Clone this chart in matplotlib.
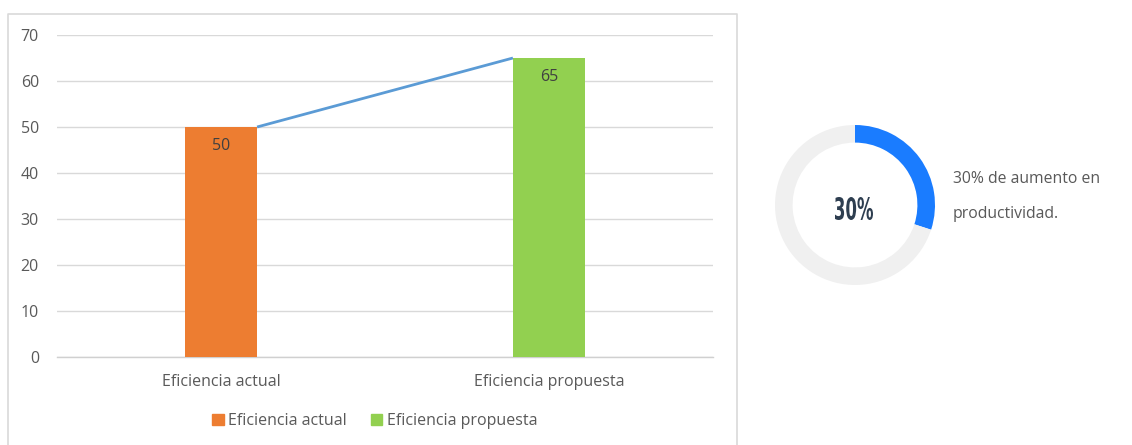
import matplotlib
matplotlib.use("Agg")
import matplotlib.pyplot as plt
from matplotlib.patches import Rectangle, PathPatch
from matplotlib.textpath import TextPath
from matplotlib.font_manager import FontProperties
from matplotlib.transforms import Affine2D

plt.rcParams["font.family"] = ["Open Sans", "DejaVu Sans"]

categories = ["Eficiencia actual", "Eficiencia propuesta"]
values = [50, 65]
bar_colors = ["#ed7d31", "#92d050"]
y_ticks = [0, 10, 20, 30, 40, 50, 60, 70]
increase_pct = 30
caption = "30% de aumento en\nproductividad."

W, H = 1132, 445
fig = plt.figure(figsize=(W / 100, H / 100), dpi=100)
fig.patch.set_facecolor("white")

def box(x0, y0, x1, y1):
    return [x0 / W, 1 - y1 / H, (x1 - x0) / W, (y1 - y0) / H]

# outer frame of the chart panel (open at the bottom)
frame = fig.add_axes([0, 0, 1, 1])
frame.set_xlim(0, W)
frame.set_ylim(H, 0)
frame.axis("off")
frame.plot([8, 8, 737, 737], [446, 13.5, 13.5, 446], color="#d9d9d9", lw=1.2)

# bar chart
ax = fig.add_axes(box(57, 35, 713, 357))
x = list(range(len(categories)))
bw = 0.22
bars = ax.bar(x, values, width=bw, color=bar_colors, zorder=3)
ax.set_xlim(-0.5, len(categories) - 0.5)
ax.set_ylim(0, 70)
ax.set_yticks(y_ticks)
ax.set_xticks(x)
ax.set_xticklabels(categories)
ax.tick_params(axis="both", length=0, labelsize=11.5, colors="#595959")
ax.tick_params(axis="y", pad=13)
ax.tick_params(axis="x", pad=12)
ax.grid(axis="y", color="#d9d9d9", lw=1, zorder=0)
for s in ["top", "right", "left"]:
    ax.spines[s].set_visible(False)
ax.spines["bottom"].set_color("#d0d0d0")
ax.spines["bottom"].set_linewidth(1)
ax.set_facecolor("none")

# connector from the top of one bar to the top of the next
ax.plot([x[0] + bw / 2, x[1] - bw / 2], values, color="#5b9bd5", lw=2, zorder=4,
        solid_capstyle="butt")

for xi, v in zip(x, values):
    ax.annotate(str(v), (xi, v), xytext=(0, -13.5), textcoords="offset points",
                ha="center", va="center", fontsize=11.5, color="#404040", zorder=5)

# legend
handles = [Rectangle((0, 0), 1, 1, color=c) for c in bar_colors]
fig.legend(handles, categories, loc="center", bbox_to_anchor=(375 / W, 1 - 421 / H),
           ncol=2, frameon=False, fontsize=11.5, handlelength=0.7, handleheight=0.7,
           handletextpad=0.3, columnspacing=1.5, labelcolor="#595959")

# donut
cx, cy, r = 855, 205, 80
dax = fig.add_axes(box(cx - r, cy - r, cx + r, cy + r))
dax.pie([increase_pct, 100 - increase_pct], colors=["#1a7cff", "#f0f0f0"],
        startangle=90, counterclock=False, radius=1,
        wedgeprops=dict(width=0.22, edgecolor="none"))
dax.set_xlim(-1, 1)
dax.set_ylim(-1, 1)
dax.set_aspect("equal")

# condensed bold percentage in the centre of the ring
tp = TextPath((0, 0), f"{increase_pct}%", size=20,
              prop=FontProperties(family="DejaVu Sans", weight="bold"))
ext = tp.get_extents()
tw, th = 38, 23
tr = (Affine2D()
      .translate(-(ext.x0 + ext.x1) / 2, -(ext.y0 + ext.y1) / 2)
      .scale(tw / ext.width, th / ext.height)
      .translate(cx - 1, H - 208.5))
fig.add_artist(PathPatch(tp, transform=tr, facecolor="#2e3e50", edgecolor="none",
                         zorder=10))

line1, line2 = caption.split("\n")
fig.text(953 / W, 1 - 179 / H, line1, ha="left", va="center",
         fontsize=11.3, color="#595959")
fig.text(953 / W, 1 - 214 / H, line2, ha="left", va="center",
         fontsize=11.3, color="#595959")

fig.savefig("out.png", dpi=100)
